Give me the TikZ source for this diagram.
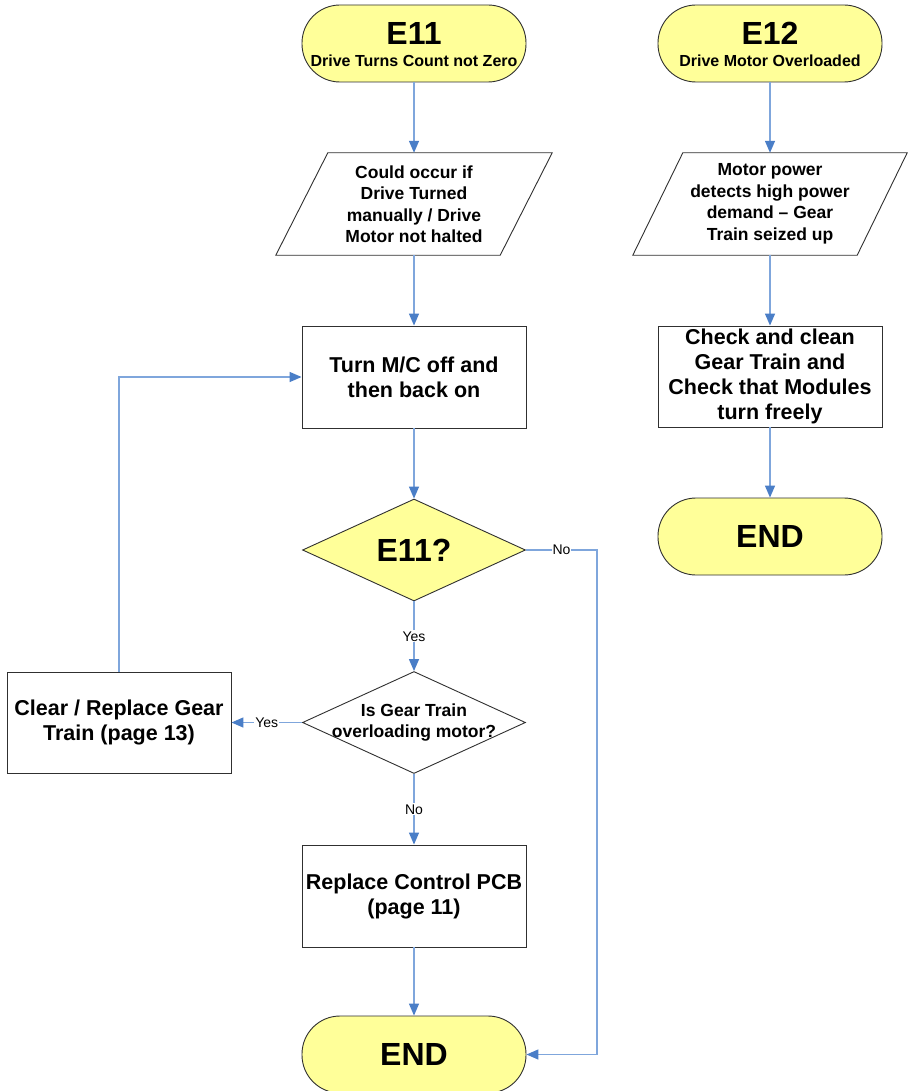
\documentclass[tikz,border=0pt]{standalone}
\usepackage{fontspec}
\setmainfont{Liberation Sans}
\usetikzlibrary{arrows.meta,shapes.geometric,calc}

\definecolor{termyellow}{HTML}{FFFF99}
\definecolor{linkblue}{HTML}{7FA6DC}
\definecolor{tipblue}{HTML}{4A7EC7}
\definecolor{edgegray}{HTML}{303030}

\newcommand\bigfont{\fontsize{32}{34}\selectfont\bfseries}
\newcommand\subfont{\fontsize{16}{18}\selectfont\bfseries}
\newcommand\boxfont{\fontsize{21.5}{25}\selectfont\bfseries}
\newcommand\iofont{\fontsize{17.5}{21.5}\selectfont\bfseries}
\newcommand\lblfont{\fontsize{14}{16}\selectfont}

\begin{document}
\begin{tikzpicture}[x=1pt,y=-1pt,
  terminal/.style={draw=edgegray,line width=0.9pt,fill=termyellow,rounded corners=38pt,
    minimum width=224pt,minimum height=77pt,inner sep=0pt,font=\bigfont},
  process/.style={draw=edgegray,line width=0.9pt,fill=white,minimum width=224pt,
    minimum height=102pt,inner sep=0pt,align=center,font=\boxfont},
  decision/.style={diamond,aspect=2.19,draw=edgegray,line width=0.9pt,minimum width=223pt,
    minimum height=102pt,inner sep=0pt,align=center},
  iobox/.style={minimum width=224pt,minimum height=102pt,inner sep=0pt,align=center,font=\iofont},
  ioshape/.style={draw=edgegray,line width=0.9pt},
  title/.style={anchor=base,inner sep=0pt,font=\bigfont},
  subtitle/.style={anchor=base,inner sep=0pt,font=\subfont},
  question/.style={inner sep=0pt,align=center,font=\iofont},
  link/.style={draw=linkblue,line width=1.4pt,-{Triangle[length=12pt,width=10pt,color=tipblue]}},
  lbl/.style={fill=white,inner sep=1pt,font=\lblfont},
]
% page
\fill[white] (0,0) rectangle (907,1091);
\useasboundingbox (0,0) rectangle (907,1091);

% ---- E11 branch ----
\node[terminal] (e11) at (414,43.5) {};
\node[title] (e11t) at (414,45) {E11};
\node[subtitle] (e11s) at (414,67) {Drive Turns Count not Zero};

\node[iobox] (p1) at (414,204) {Could occur if\\Drive Turned\\manually / Drive\\Motor not halted};
\draw[ioshape] ($(p1.north west)+(26,0)$) -- ($(p1.north east)+(26,0)$)
  -- ($(p1.south east)+(-26,0)$) -- ($(p1.south west)+(-26,0)$) -- cycle;

\node[process] (turn) at (414,377) {Turn M/C off and\\then back on};
\node[decision,fill=termyellow,font=\bigfont] (d1) at (414,550) {E11?};
\node[decision,fill=white] (d2) at (414,722.5) {};
\node[question] (d2t) at (414,722.5) {Is Gear Train\\overloading motor?};
\node[process,minimum height=101pt] (clear) at (119,722.5) {Clear / Replace Gear\\Train (page 13)};
\node[process] (replace) at (414,896) {Replace Control PCB\\(page 11)};
\node[terminal] (end1) at (414,1054.5) {END};
\coordinate (nocorner) at (597,550);

% ---- E12 branch ----
\node[terminal] (e12) at (770,43.5) {};
\node[title] (e12t) at (770,45) {E12};
\node[subtitle] (e12s) at (770,67) {Drive Motor Overloaded};

\node[iobox] (p2) at (770,204) {Motor power\\detects high power\\demand -- Gear\\Train seized up};
\draw[ioshape] ($(p2.north west)+(25,0)$) -- ($(p2.north east)+(25,0)$)
  -- ($(p2.south east)+(-25,0)$) -- ($(p2.south west)+(-25,0)$) -- cycle;

\node[process,minimum height=101pt] (check) at (770,376.5) {Check and clean\\Gear Train and\\Check that Modules\\turn freely};
\node[terminal] (end2) at (770,536.5) {END};

% ---- connectors ----
\draw[link] (e11) -- (p1);
\draw[link] (p1) -- (turn);
\draw[link] (turn) -- (d1);
\draw[link] (d1) -- node[lbl] {Yes} (d2);
\draw[link] (d2) -- node[lbl] {Yes} (clear);
\draw[link] (d2) -- node[lbl] {No} (replace);
\draw[link] (replace) -- (end1);
\draw[link] (clear.north) |- (turn.west);
\draw[link] (d1.east) -- node[lbl] {No} (nocorner) |- (end1.east);

\draw[link] (e12) -- (p2);
\draw[link] (p2) -- (check);
\draw[link] (check) -- (end2);
\end{tikzpicture}
\end{document}
